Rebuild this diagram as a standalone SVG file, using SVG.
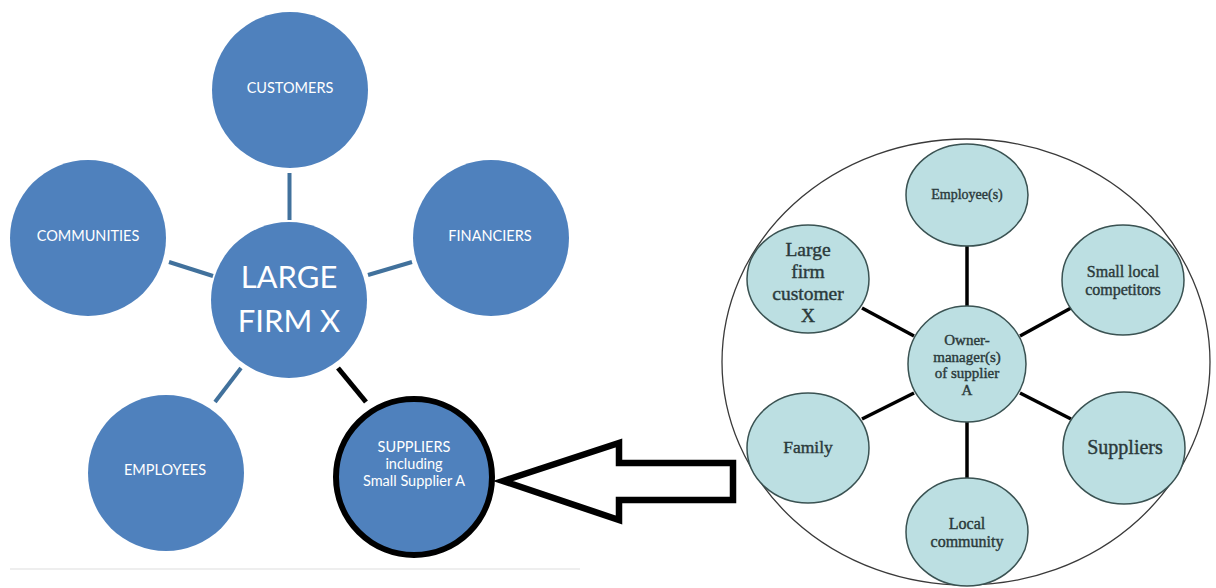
<svg xmlns="http://www.w3.org/2000/svg" width="1216" height="588" viewBox="0 0 1216 588">
  <style>
    .blue { fill: #4f81bd; }
    .lbl { font-family: Lato, "Open Sans", sans-serif; fill: #ffffff; text-anchor: middle; }
    .small { font-size: 14.5px; }
    .big { font-size: 31px; }
    .spoke-l { stroke: #41719c; stroke-width: 4; stroke-linecap: butt; }
    .spoke-k { stroke: #000000; stroke-width: 5; }
    .spoke-r { stroke: #000000; stroke-width: 3.5; }
    .node-r { fill: #bcdfe2; stroke: #3a5252; stroke-width: 1.5; }
    .serif { font-family: "Liberation Serif", "Times New Roman", serif; fill: #2b3a3b; stroke: #2b3a3b; stroke-width: 0.4; text-anchor: middle; }
  </style>

  <rect width="1216" height="588" fill="#ffffff"/>

  <!-- faint baseline under the stakeholder map -->
  <line x1="10" y1="569" x2="580" y2="569" stroke="#eeeeee" stroke-width="2"/>

  <!-- connectors -->
  <g id="connectors">
    <line class="spoke-l" x1="289.5" y1="173" x2="289.5" y2="220"/>
    <line class="spoke-l" x1="169" y1="262" x2="213" y2="276"/>
    <line class="spoke-l" x1="368" y1="275" x2="412" y2="262"/>
    <line class="spoke-l" x1="241" y1="368" x2="215" y2="402"/>
    <line class="spoke-k" x1="338" y1="368" x2="366" y2="402"/>

    <line class="spoke-r" x1="967" y1="246" x2="967" y2="307"/>
    <line class="spoke-r" x1="967" y1="421" x2="967" y2="479"/>
    <line class="spoke-r" x1="862" y1="308" x2="914" y2="336"/>
    <line class="spoke-r" x1="1020" y1="336" x2="1071" y2="308"/>
    <line class="spoke-r" x1="862" y1="419" x2="914" y2="393"/>
    <line class="spoke-r" x1="1020" y1="393" x2="1071" y2="419"/>

    <!-- hollow arrow pointing to the supplier -->
    <polygon points="503,481 619,443 619,463 733,463 733,500 619,500 619,520" fill="#ffffff" stroke="#000000" stroke-width="6.5" stroke-linejoin="miter"/>
  </g>

  <!-- left: large firm stakeholders -->
  <g id="customers">
    <circle class="blue" cx="290" cy="90" r="78"/>
    <text class="lbl small" x="290" y="93">CUSTOMERS</text>
  </g>
  <g id="communities">
    <circle class="blue" cx="88" cy="238" r="78"/>
    <text class="lbl small" x="88" y="241">COMMUNITIES</text>
  </g>
  <g id="financiers">
    <circle class="blue" cx="491" cy="238" r="78"/>
    <text class="lbl small" x="490" y="241">FINANCIERS</text>
  </g>
  <g id="large-firm-x">
    <circle class="blue" cx="289" cy="300" r="78"/>
    <text class="lbl big" x="289" y="288">LARGE</text>
    <text class="lbl big" x="289" y="332">FIRM X</text>
  </g>
  <g id="employees">
    <circle class="blue" cx="166" cy="473" r="78"/>
    <text class="lbl small" x="165" y="475">EMPLOYEES</text>
  </g>
  <g id="suppliers-left">
    <circle class="blue" cx="414" cy="477" r="78" stroke="#000000" stroke-width="6"/>
    <text class="lbl small" x="414" y="452">SUPPLIERS</text>
    <text class="lbl small" x="414" y="469">including</text>
    <text class="lbl small" x="414" y="486">Small Supplier A</text>
  </g>

  <!-- right: small supplier's network -->
  <g id="boundary">
    <ellipse cx="966" cy="362" rx="244" ry="223" fill="none" stroke="#3a3a3a" stroke-width="1.3"/>
  </g>
  <g id="employee-s">
    <ellipse class="node-r" cx="967" cy="195" rx="61" ry="51"/>
    <text class="serif" x="967" y="199" font-size="14">Employee(s)</text>
  </g>
  <g id="large-firm-customer">
    <ellipse class="node-r" cx="808" cy="279" rx="61" ry="54"/>
    <text class="serif" x="808" y="256" font-size="19.5">Large</text>
    <text class="serif" x="808" y="278" font-size="19.5">firm</text>
    <text class="serif" x="808" y="300" font-size="19.5">customer</text>
    <text class="serif" x="808" y="322" font-size="19.5">X</text>
  </g>
  <g id="small-local-competitors">
    <ellipse class="node-r" cx="1123" cy="280" rx="61" ry="55"/>
    <text class="serif" x="1123" y="277" font-size="16">Small local</text>
    <text class="serif" x="1123" y="295" font-size="16">competitors</text>
  </g>
  <g id="owner-manager">
    <ellipse class="node-r" cx="967" cy="364" rx="59" ry="58"/>
    <text class="serif" x="967" y="345" font-size="15">Owner-</text>
    <text class="serif" x="967" y="361.5" font-size="15">manager(s)</text>
    <text class="serif" x="967" y="378" font-size="15">of supplier</text>
    <text class="serif" x="967" y="394.5" font-size="15">A</text>
  </g>
  <g id="family">
    <ellipse class="node-r" cx="808" cy="448" rx="61" ry="55"/>
    <text class="serif" x="808" y="453" font-size="17.5">Family</text>
  </g>
  <g id="suppliers-right">
    <ellipse class="node-r" cx="1124" cy="448" rx="61" ry="56"/>
    <text class="serif" x="1125" y="454" font-size="20">Suppliers</text>
  </g>
  <g id="local-community">
    <ellipse class="node-r" cx="967" cy="532" rx="61" ry="54"/>
    <text class="serif" x="967" y="529" font-size="16">Local</text>
    <text class="serif" x="967" y="547" font-size="16">community</text>
  </g>
</svg>
